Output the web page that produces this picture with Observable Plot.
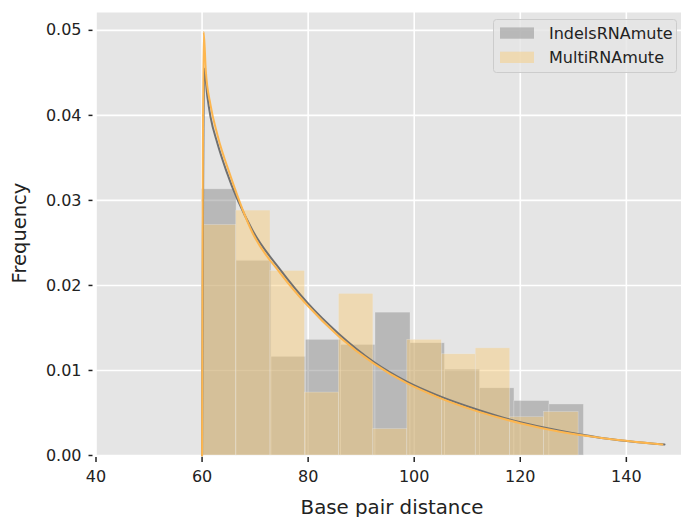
<!DOCTYPE html>
<html>
<head>
<meta charset="utf-8">
<script src="https://cdn.jsdelivr.net/npm/d3@7"></script>
<script src="https://cdn.jsdelivr.net/npm/@observablehq/plot@0.6"></script>
<style>
  html, body { margin: 0; padding: 0; background: white; }
  #chart { width: 681px; height: 517px; }
</style>
</head>
<body>
<div id="chart"></div>
<script>
// ---- data ----
const seriesNames = ["IndelsRNAmute", "MultiRNAmute"];

const grayEdges  = [60, 66.5, 73.1, 79.6, 86.2, 92.7, 99.3, 105.8, 112.4, 118.9, 125.5, 132];
const grayValues = [0.0313, 0.0229, 0.0116, 0.0136, 0.0130, 0.0168, 0.0132, 0.0101, 0.0079, 0.0064, 0.0060];

const orangeEdges  = [60, 66.45, 72.9, 79.4, 85.8, 92.3, 98.7, 105.2, 111.6, 118.1, 124.5, 131];
const orangeValues = [0.0271, 0.0288, 0.0217, 0.0074, 0.0190, 0.0031, 0.0136, 0.0119, 0.0126, 0.0045, 0.0051];

const grayCurveX = [60.0, 60.4, 61.0, 61.6, 62.9, 64.5, 69.5, 74.8, 79.8, 85.8, 92.4, 98.6, 104.3, 112.4, 120, 127.5, 135, 147.2];
const grayCurveY = [0, 0.0455, 0.0422, 0.0398, 0.0367, 0.0336, 0.0265, 0.0218, 0.0180, 0.0143, 0.0110, 0.0087, 0.0071, 0.0053, 0.0039, 0.0029, 0.0021, 0.0013];

const orangeCurveX = [60.0, 60.3, 60.7, 61.6, 62.9, 65.4, 69.5, 74.8, 79.8, 85.8, 92.4, 98.6, 104.3, 112.4, 120, 127.5, 135, 146.8];
const orangeCurveY = [0, 0.0498, 0.0453, 0.0412, 0.0377, 0.0328, 0.0262, 0.0214, 0.0177, 0.0140, 0.0108, 0.0085, 0.0069, 0.0051, 0.0038, 0.0028, 0.0021, 0.0013];

const xTicks = [40, 60, 80, 100, 120, 140];
const yTicks = [0, 0.01, 0.02, 0.03, 0.04, 0.05];

const xLabel = "Base pair distance";
const yLabel = "Frequency";

// ---- tables built from the arrays ----
const grayBins = grayValues.map((v, i) => ({x1: grayEdges[i], x2: grayEdges[i + 1], y: v}));
const orangeBins = orangeValues.map((v, i) => ({x1: orangeEdges[i], x2: orangeEdges[i + 1], y: v}));
const grayCurve = grayCurveX.map((x, i) => ({x, y: grayCurveY[i]}));
const orangeCurve = orangeCurveX.map((x, i) => ({x, y: orangeCurveY[i]}));

const grayFill = "#808080";
const orangeFill = "rgb(249,202,115)";
const barOpacity = 0.45;

const chart = Plot.plot({
  width: 681,
  height: 517,
  marginLeft: 95.5,
  marginRight: 0,
  marginTop: 12,
  marginBottom: 62,
  x: {domain: [40, 150.4]},
  y: {domain: [0, 0.0521]},
  style: {fontFamily: "DejaVu Sans", fontSize: "16px", color: "#222", background: "white"},
  marks: [
    Plot.frame({fill: "#E5E5E5", stroke: "none"}),
    Plot.gridX(xTicks, {stroke: "white", strokeOpacity: 1, strokeWidth: 1.6}),
    Plot.gridY(yTicks, {stroke: "white", strokeOpacity: 1, strokeWidth: 1.6}),
    Plot.rectY(grayBins, {x1: "x1", x2: "x2", y: "y", fill: grayFill, fillOpacity: barOpacity,
      stroke: "#EEEEEE", strokeWidth: 0.6, strokeOpacity: 0.5}),
    Plot.rectY(orangeBins, {x1: "x1", x2: "x2", y: "y", fill: orangeFill, fillOpacity: barOpacity,
      stroke: "#EEEEEE", strokeWidth: 0.6, strokeOpacity: 0.5}),
    Plot.line(grayCurve, {x: "x", y: "y", stroke: "#707070", strokeWidth: 2, curve: "monotone-x"}),
    Plot.line(orangeCurve, {x: "x", y: "y", stroke: "#FDB64F", strokeWidth: 2, curve: "monotone-x"}),
    Plot.axisX({ticks: xTicks, tickSize: 5, tickPadding: 8, dy: 2, label: null,
      stroke: "#222", strokeWidth: 1.5, fontSize: 16, fill: "#222"}),
    Plot.axisY({ticks: yTicks, tickFormat: d3.format(".2f"), tickSize: 4, tickPadding: 7.5, dx: -3,
      label: null, stroke: "#222", strokeWidth: 1.5, fontSize: 16, fill: "#222"})
  ]
});

document.getElementById("chart").appendChild(chart);

// ---- axis labels and legend ----
const svg = d3.select(chart);
svg.append("text")
  .attr("x", 392).attr("y", 513.5)
  .attr("text-anchor", "middle")
  .attr("font-family", "DejaVu Sans").attr("font-size", 19.8).attr("fill", "#222")
  .text(xLabel);
svg.append("text")
  .attr("transform", "translate(26,233) rotate(-90)")
  .attr("text-anchor", "middle")
  .attr("font-family", "DejaVu Sans").attr("font-size", 19.5).attr("fill", "#222")
  .text(yLabel);

const lg = svg.append("g");
lg.append("rect")
  .attr("x", 493.5).attr("y", 19.5).attr("width", 183).attr("height", 53)
  .attr("rx", 3).attr("fill", "#E5E5E5").attr("fill-opacity", 0.8)
  .attr("stroke", "#CCCCCC").attr("stroke-width", 1);
const legendFills = [grayFill, orangeFill];
seriesNames.forEach((name, i) => {
  const cy = 33 + i * 24.3;
  lg.append("rect")
    .attr("x", 500).attr("y", cy - 5.6).attr("width", 34).attr("height", 11.3)
    .attr("fill", legendFills[i]).attr("fill-opacity", barOpacity);
  lg.append("text")
    .attr("x", 549).attr("y", cy + 6)
    .attr("text-anchor", "start")
    .attr("font-family", "DejaVu Sans").attr("font-size", 16).attr("fill", "#222")
    .text(name);
});
</script>
</body>
</html>
